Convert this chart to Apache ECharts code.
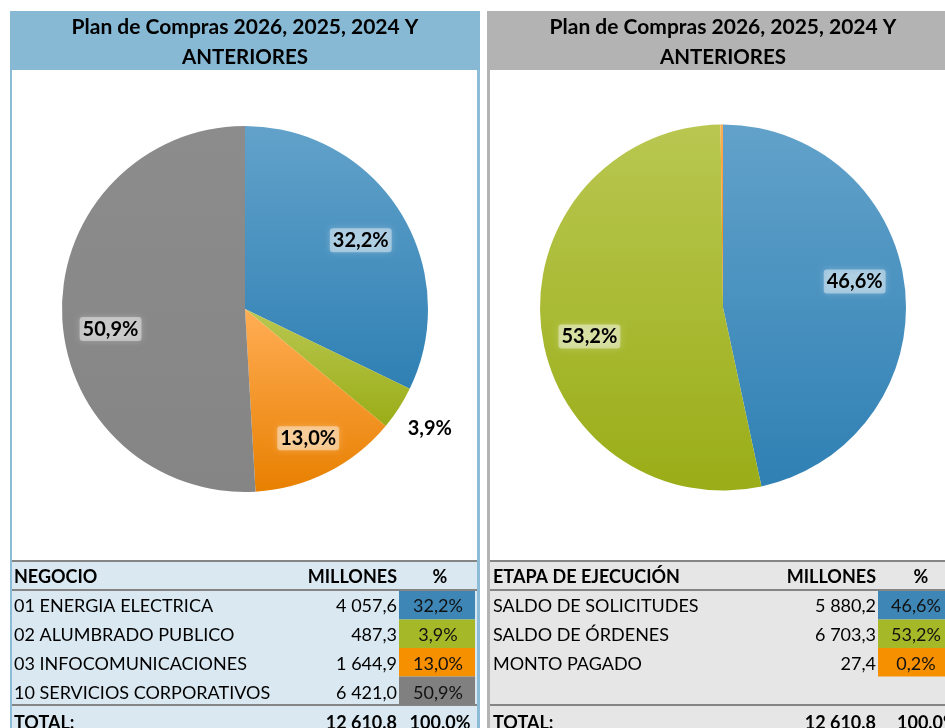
<!DOCTYPE html>
<html><head><meta charset="utf-8">
<script src="https://cdn.jsdelivr.net/npm/echarts@6/dist/echarts.min.js"></script>
<style>html,body{margin:0;padding:0;background:#fff}#c{width:945px;height:728px}</style>
</head><body><div id="c"></div>
<script>
// ---- data ----
const titleLines = ['Plan de Compras 2026, 2025, 2024 Y', 'ANTERIORES'];
const negocioCats = ['01 ENERGIA ELECTRICA', '02 ALUMBRADO PUBLICO', '03 INFOCOMUNICACIONES', '10 SERVICIOS CORPORATIVOS'];
const negocioVals = [4057.6, 487.3, 1644.9, 6421.0];
const etapaCats = ['SALDO DE SOLICITUDES', 'SALDO DE ÓRDENES', 'MONTO PAGADO'];
const etapaVals = [5880.2, 6703.3, 27.4];
const headLeft = ['NEGOCIO', 'MILLONES', '%'];
const headRight = ['ETAPA DE EJECUCIÓN', 'MILLONES', '%'];
const totalLabel = 'TOTAL:';
const totalLeft = ['12 610.8', '100.0%'];
const totalRight = ['12 610.8', '100.0%'];

// ---- styles ----
const FONT = 'Lato';
const negocioGrad = [['#62a2ca', '#2f80b4'], ['#b9c751', '#9aad17'], ['#ffad55', '#e88000'], ['#8c8c8c', '#858585']];
const negocioCell = ['#3d86b5', '#a5b828', '#f79000', '#808080'];
const etapaGrad = [['#62a2ca', '#2f80b4'], ['#b9c751', '#9aad17'], ['#ffad55', '#e88000']];
const etapaCell = ['#3d86b5', '#a5b828', '#f79000'];
const nudgeLeft = [[-5, 7], [65, 42], [-1, 2], [8, 16]];
const nudgeRight = [[-10, -11], [8, 13], [0, 0]];

function sum(a) { return a.reduce((s, v) => s + v, 0); }
function fmtNum(v) {
  const p = v.toFixed(1).split('.');
  return p[0].replace(/\B(?=(\d{3})+(?!\d))/g, ' ') + ',' + p[1];
}
function fmtPct(v, arr) { return (v / sum(arr) * 100).toFixed(1).replace('.', ',') + '%'; }
function grad(c) {
  return new echarts.graphic.LinearGradient(0, 0, 0, 1, [{offset: 0, color: c[0]}, {offset: 1, color: c[1]}]);
}

function panel(cfg) {
  const g = [];
  const T = (x, y, text, opt) => g.push({type: 'text', x: x, y: y, z: 10, style: Object.assign({
    text: text, fontFamily: FONT, fontSize: 18, fill: '#000', align: 'left', verticalAlign: 'middle'}, opt || {})});
  // outer border / header
  g.push({type: 'rect', shape: {x: cfg.x0, y: 11, width: cfg.x1 - cfg.x0, height: 740}, style: {fill: cfg.border}, z: 1});
  g.push({type: 'rect', shape: {x: cfg.x0, y: 11, width: cfg.x1 - cfg.x0, height: 59}, style: {fill: cfg.header}, z: 2});
  g.push({type: 'rect', shape: {x: cfg.ix0, y: 70, width: cfg.ix1 - cfg.ix0, height: 491}, style: {fill: '#fff'}, z: 2});
  g.push({type: 'rect', shape: {x: cfg.ix0, y: 561, width: cfg.ix1 - cfg.ix0, height: 200}, style: {fill: cfg.tableBg}, z: 2});
  [561, 590, 705].forEach(y => g.push({type: 'rect', shape: {x: cfg.ix0, y: y - 1, width: cfg.ix1 - cfg.ix0, height: 2}, style: {fill: '#858585'}, z: 3}));
  // title
  T(cfg.cx, 27, titleLines[0], {align: 'center', fontWeight: 'bold', fontSize: 21});
  T(cfg.cx, 57, titleLines[1], {align: 'center', fontWeight: 'bold', fontSize: 20.5});
  // table header
  T(cfg.labelX, 577, cfg.head[0], {fontWeight: 'bold'});
  T(cfg.valR, 577, cfg.head[1], {fontWeight: 'bold', align: 'right'});
  T(cfg.headPctX, 577, cfg.head[2], {fontWeight: 'bold', align: 'center'});
  // rows
  const rowTop = 591, rowH = 28.5;
  cfg.cats.forEach((c, i) => {
    const yc = 606 + i * 29;
    g.push({type: 'rect', shape: {x: cfg.pctX0, y: rowTop + i * rowH, width: cfg.pctX1 - cfg.pctX0, height: rowH}, style: {fill: cfg.cell[i]}, z: 4});
    T(cfg.labelX, yc, c);
    T(cfg.valR, yc, fmtNum(cfg.vals[i]), {align: 'right'});
    T(cfg.pctX, yc, fmtPct(cfg.vals[i], cfg.vals), {align: 'center', fill: '#111'});
  });
  // total
  T(cfg.labelX, 723, totalLabel, {fontWeight: 'bold'});
  T(cfg.valR, 723, cfg.total[0], {align: 'right', fontWeight: 'bold'});
  T(cfg.totPctX, 723, cfg.total[1], {align: cfg.totAlign, fontWeight: 'bold'});
  return g;
}

const graphics = [].concat(
  panel({x0: 10, x1: 480, ix0: 12, ix1: 477, border: '#8dbcd8', header: '#87b9d5', tableBg: '#dae8f1',
    cx: 245, labelX: 14, valR: 397, pctX0: 399, pctX1: 475, pctX: 438, headPctX: 440,
    head: headLeft, cats: negocioCats, vals: negocioVals, cell: negocioCell, total: totalLeft, totPctX: 440, totAlign: 'center'}),
  panel({x0: 487, x1: 960, ix0: 490, ix1: 960, border: '#b3b3b3', header: '#b3b3b3', tableBg: '#e6e6e6',
    cx: 723, labelX: 493, valR: 876, pctX0: 878, pctX1: 960, pctX: 916, headPctX: 921,
    head: headRight, cats: etapaCats, vals: etapaVals, cell: etapaCell, total: totalRight, totPctX: 897, totAlign: 'left'})
);

const labelStyle = {
  show: true, position: 'inside', fontFamily: FONT, fontWeight: 'bold', fontSize: 20, color: '#000',
  backgroundColor: 'rgba(255,255,255,0.42)', padding: [2, 3], borderRadius: 3,
  shadowColor: 'rgba(255,255,255,0.55)', shadowBlur: 6
};

function pieSeries(cats, vals, gradCols, center) {
  return {
    type: 'pie', center: center, radius: [0, 183], startAngle: 90, clockwise: true,
    silent: true, label: {show: false}, labelLine: {show: false}, z: 5,
    data: cats.map((c, i) => ({name: c, value: vals[i], itemStyle: {color: grad(gradCols[i])}}))
  };
}
function labelSeries(cats, vals, center, nudge) {
  const tot = sum(vals);
  return {
    type: 'pie', center: center, radius: [96, 183], startAngle: 90, clockwise: true,
    silent: true, avoidLabelOverlap: false, z: 6,
    itemStyle: {color: 'rgba(0,0,0,0)'},
    label: Object.assign({}, labelStyle, {formatter: p => fmtPct(p.value, vals)}),
    labelLine: {show: false},
    labelLayout: p => ({dx: nudge[p.dataIndex][0], dy: nudge[p.dataIndex][1]}),
    data: cats.map((c, i) => ({name: c, value: vals[i], label: {show: vals[i] / tot > 0.01}}))
  };
}

const chart = echarts.init(document.getElementById('c'), null, {renderer: 'canvas'});
chart.setOption({
  animation: false,
  graphic: graphics,
  series: [
    pieSeries(negocioCats, negocioVals, negocioGrad, [245, 309]),
    labelSeries(negocioCats, negocioVals, [245, 309], nudgeLeft),
    pieSeries(etapaCats, etapaVals, etapaGrad, [723, 307.5]),
    labelSeries(etapaCats, etapaVals, [723, 307.5], nudgeRight)
  ]
});
</script>
</body></html>
